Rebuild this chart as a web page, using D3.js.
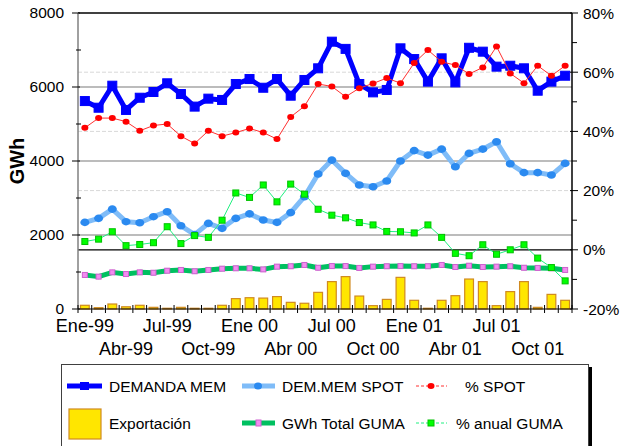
<!DOCTYPE html>
<html>
<head>
<meta charset="utf-8">
<script src="https://cdn.jsdelivr.net/npm/d3@7"></script>
<style>
  body { margin: 0; background: #fff; }
  text { font-family: Arial, "Liberation Sans", sans-serif; fill: #000; }
</style>
</head>
<body>
<div id="chart"></div>
<script>
// months Ene-99 .. Dic-01
var months = d3.range(36);
var tickLabels = ["Ene-99","Abr-99","Jul-99","Oct-99","Ene 00","Abr 00","Jul 00","Oct 00","Ene 01","Abr 01","Jul 01","Oct 01"];

// GWh (left axis)
var demandaMem = [5620,5440,6035,5380,5710,5865,6100,5810,5470,5685,5650,6080,6215,5980,6215,5765,6190,6505,
                  7225,7030,6080,5855,5920,7045,6755,6145,6775,6125,7060,6955,6550,6575,6505,5900,6145,6305];
var demMemSpot = [2340,2450,2700,2360,2330,2495,2630,2250,2010,2315,2180,2450,2570,2405,2340,2605,3035,3650,
                  4025,3665,3350,3305,3460,4000,4280,4160,4320,3845,4205,4320,4520,3925,3685,3685,3620,3935];
var gumaTotal = [920,875,990,945,990,980,1035,1055,1020,1055,1090,1100,1100,1070,1145,1155,1190,1115,
                 1160,1160,1110,1145,1155,1160,1155,1155,1190,1135,1170,1135,1145,1155,1115,1110,1100,1055];
var exportacion = [100,35,135,60,100,45,20,45,20,20,100,280,305,295,335,180,155,450,
                   740,875,350,90,260,855,235,20,235,360,810,740,90,470,740,45,395,235];

// % (right axis)
var pctSpot = [41.2,44.5,44.5,43.3,40.2,42.0,42.5,38.4,35.9,40.2,38.4,39.6,41.0,39.6,37.4,44.9,48.5,56.0,
               55.2,51.7,54.6,56.2,58.0,56.3,63.1,67.5,63.5,62.4,59.4,61.6,68.7,59.6,56.3,62.2,58.8,62.2];
var pctGuma = [2.8,3.6,6.1,1.4,1.8,2.4,7.8,2.1,4.8,4.2,10.0,19.2,17.7,21.9,16.2,22.2,18.8,13.7,
               11.7,10.8,9.2,8.4,6.2,6.1,5.7,8.4,4.2,-1.2,-2.0,1.7,-1.5,0.0,1.7,-2.8,-6.0,-10.5];

var leftTicks = [0,2000,4000,6000,8000];
var rightTicks = [-20,0,20,40,60,80];

var W = 621, H = 446;
var x0 = 78, x1 = 572, yTop = 13, yBot = 309;

var svg = d3.select("#chart").append("svg")
  .attr("width", W).attr("height", H);

var x = d3.scaleBand().domain(months).range([x0, x1]).paddingInner(0.36).paddingOuter(0.18);
var xb = d3.scaleLinear().domain([0, 36]).range([x0, x1]);
var yL = d3.scaleLinear().domain([0, 8000]).range([yBot, yTop]);
var yR = d3.scaleLinear().domain([-20, 80]).range([yBot, yTop]);
var cx = function(i) { return xb(i + 0.5); };

// gridlines
svg.append("g").selectAll("line").data([20, 40, 60]).enter().append("line")
  .attr("x1", x0).attr("x2", x1)
  .attr("y1", function(d) { return yR(d); }).attr("y2", function(d) { return yR(d); })
  .attr("stroke", "#d8d8d8").attr("stroke-width", 1).attr("stroke-dasharray", "4,2");
svg.append("g").selectAll("line").data([2000, 4000, 6000]).enter().append("line")
  .attr("x1", x0).attr("x2", x1)
  .attr("y1", function(d) { return yL(d); }).attr("y2", function(d) { return yL(d); })
  .attr("stroke", "#a6a6a6").attr("stroke-width", 1.5);
svg.append("line").attr("x1", x0).attr("x2", x1).attr("y1", yR(0)).attr("y2", yR(0))
  .attr("stroke", "#000").attr("stroke-width", 1.2);
svg.append("line").attr("x1", x0).attr("x2", x1).attr("y1", yTop).attr("y2", yTop)
  .attr("stroke", "#000").attr("stroke-width", 1.5);

// bars
svg.append("g").selectAll("rect").data(exportacion).enter().append("rect")
  .attr("x", function(d, i) { return x(i); })
  .attr("width", x.bandwidth())
  .attr("y", function(d) { return yL(d); })
  .attr("height", function(d) { return yBot - yL(d); })
  .attr("fill", "#ffe600").attr("stroke", "#d08a20").attr("stroke-width", 1.2);

function drawLine(data, yScale, color, width) {
  var line = d3.line().x(function(d, i) { return cx(i); }).y(function(d) { return yScale(d); });
  svg.append("path").datum(data).attr("d", line)
    .attr("fill", "none").attr("stroke", color).attr("stroke-width", width)
    .attr("stroke-linejoin", "round");
}
function drawSquares(data, yScale, size, fill, stroke) {
  svg.append("g").selectAll("rect").data(data).enter().append("rect")
    .attr("x", function(d, i) { return cx(i) - size / 2; })
    .attr("y", function(d) { return yScale(d) - size / 2; })
    .attr("width", size).attr("height", size)
    .attr("fill", fill).attr("stroke", stroke).attr("stroke-width", 1);
}
function drawDots(data, yScale, rx, ry, fill) {
  svg.append("g").selectAll("ellipse").data(data).enter().append("ellipse")
    .attr("cx", function(d, i) { return cx(i); })
    .attr("cy", function(d) { return yScale(d); })
    .attr("rx", rx).attr("ry", ry)
    .attr("fill", fill);
}

// GWh Total GUMA
drawLine(gumaTotal, yL, "#00c060", 5);
drawSquares(gumaTotal, yL, 5, "#f28cf0", "#d060d0");

// DEMANDA MEM
drawLine(demandaMem, yL, "#0000ff", 5);
drawSquares(demandaMem, yL, 9, "#0000ff", "#0000ff");

// DEM.MEM SPOT
drawLine(demMemSpot, yL, "#7fbcf8", 5);
drawDots(demMemSpot, yL, 4.5, 3.8, "#2b8af0");

// % SPOT
drawLine(pctSpot, yR, "#ff3030", 1);
drawDots(pctSpot, yR, 3.5, 3, "#ff0000");

// % anual GUMA
drawLine(pctGuma, yR, "#20f080", 1);
drawSquares(pctGuma, yR, 6, "#00ff00", "#00c000");

// axes
svg.append("line").attr("x1", x0).attr("x2", x0).attr("y1", yTop).attr("y2", yBot)
  .attr("stroke", "#808080").attr("stroke-width", 1.5);
svg.append("line").attr("x1", x1).attr("x2", x1).attr("y1", yTop).attr("y2", yBot)
  .attr("stroke", "#000").attr("stroke-width", 1.5);
svg.append("line").attr("x1", x0).attr("x2", x1).attr("y1", yBot).attr("y2", yBot)
  .attr("stroke", "#000").attr("stroke-width", 1.2);

var gl = svg.append("g");
gl.selectAll("line.maj").data(leftTicks).enter().append("line")
  .attr("x1", x0 - 6).attr("x2", x0 + 2)
  .attr("y1", function(d) { return yL(d); }).attr("y2", function(d) { return yL(d); })
  .attr("stroke", "#000");
gl.selectAll("line.min").data([1000, 3000, 5000, 7000]).enter().append("line")
  .attr("x1", x0 - 2).attr("x2", x0 + 3)
  .attr("y1", function(d) { return yL(d); }).attr("y2", function(d) { return yL(d); })
  .attr("stroke", "#000");
gl.selectAll("text").data(leftTicks).enter().append("text")
  .attr("x", 64).attr("y", function(d) { return yL(d); }).attr("dy", "0.33em")
  .attr("text-anchor", "end").attr("font-size", 15.5)
  .text(function(d) { return d; });

var gr = svg.append("g");
gr.selectAll("line.maj").data(rightTicks).enter().append("line")
  .attr("x1", x1 - 2).attr("x2", x1 + 6)
  .attr("y1", function(d) { return yR(d); }).attr("y2", function(d) { return yR(d); })
  .attr("stroke", "#000");
gr.selectAll("line.min").data([-10, 10, 30, 50, 70]).enter().append("line")
  .attr("x1", x1).attr("x2", x1 + 5)
  .attr("y1", function(d) { return yR(d); }).attr("y2", function(d) { return yR(d); })
  .attr("stroke", "#000");
gr.selectAll("text").data(rightTicks).enter().append("text")
  .attr("x", 583).attr("y", function(d) { return yR(d); }).attr("dy", "0.36em")
  .attr("font-size", 15.5)
  .text(function(d) { return d + "%"; });

// x ticks at category boundaries
svg.append("g").selectAll("line").data(d3.range(37)).enter().append("line")
  .attr("x1", function(d) { return xb(d); }).attr("x2", function(d) { return xb(d); })
  .attr("y1", yBot - 4).attr("y2", yBot + 4)
  .attr("stroke", "#000");
svg.append("g").selectAll("text").data(tickLabels).enter().append("text")
  .attr("x", function(d, i) { return cx(i * 3); })
  .attr("y", function(d, i) { return i % 2 === 0 ? 332 : 355; })
  .attr("text-anchor", function(d, i) { return i === 0 ? "start" : "middle"; })
  .attr("dx", function(d, i) { return i === 0 ? -29 : 0; })
  .attr("font-size", 18)
  .text(function(d) { return d; });

// y title
svg.append("text")
  .attr("transform", "translate(24,161) rotate(-90)")
  .attr("text-anchor", "middle").attr("font-size", 20).attr("font-weight", "bold")
  .text("GWh");

// legend
var lg = svg.append("g");
lg.append("rect").attr("x", 64).attr("y", 367).attr("width", 528).attr("height", 82).attr("fill", "#000");
lg.append("rect").attr("x", 61.5).attr("y", 364.5).attr("width", 527).attr("height", 82)
  .attr("fill", "#fff").attr("stroke", "#404040").attr("stroke-width", 1);

var r1 = 386, r2 = 423;
function legLine(xs, xe, yy, color, width, dash) {
  var l = lg.append("line").attr("x1", xs).attr("x2", xe).attr("y1", yy).attr("y2", yy)
    .attr("stroke", color).attr("stroke-width", width);
  if (dash) l.attr("stroke-dasharray", dash);
}
function legText(xx, yy, t) {
  lg.append("text").attr("x", xx).attr("y", yy).attr("dy", "0.36em").attr("font-size", 15.5).text(t);
}
legLine(67, 102, r1, "#0000ff", 5);
lg.append("rect").attr("x", 80).attr("y", r1 - 4).attr("width", 9).attr("height", 8).attr("fill", "#0000ff");
legText(109, r1, "DEMANDA MEM");

legLine(242, 275, r1, "#7fbcf8", 5);
lg.append("ellipse").attr("cx", 258).attr("cy", r1).attr("rx", 4).attr("ry", 3.5).attr("fill", "#2b8af0");
legText(282, r1, "DEM.MEM SPOT");

legLine(416, 447, r1, "#ff3030", 1, "3,2");
lg.append("ellipse").attr("cx", 431).attr("cy", r1).attr("rx", 3.5).attr("ry", 3).attr("fill", "#ff0000");
legText(465, r1, "% SPOT");

lg.append("rect").attr("x", 69).attr("y", 409).attr("width", 32).attr("height", 30)
  .attr("fill", "#ffe600").attr("stroke", "#d08a20").attr("stroke-width", 1.2);
legText(109, r2, "Exportación");

legLine(242, 275, r2, "#00c060", 5);
lg.append("rect").attr("x", 256).attr("y", r2 - 3).attr("width", 5).attr("height", 6)
  .attr("fill", "#f28cf0").attr("stroke", "#d060d0");
legText(282, r2, "GWh Total GUMA");

legLine(416, 447, r2, "#20f080", 1, "3,2");
lg.append("rect").attr("x", 428).attr("y", r2 - 3).attr("width", 6).attr("height", 6)
  .attr("fill", "#00ff00").attr("stroke", "#00c000");
legText(456, r2, "% anual GUMA");
</script>
</body>
</html>
